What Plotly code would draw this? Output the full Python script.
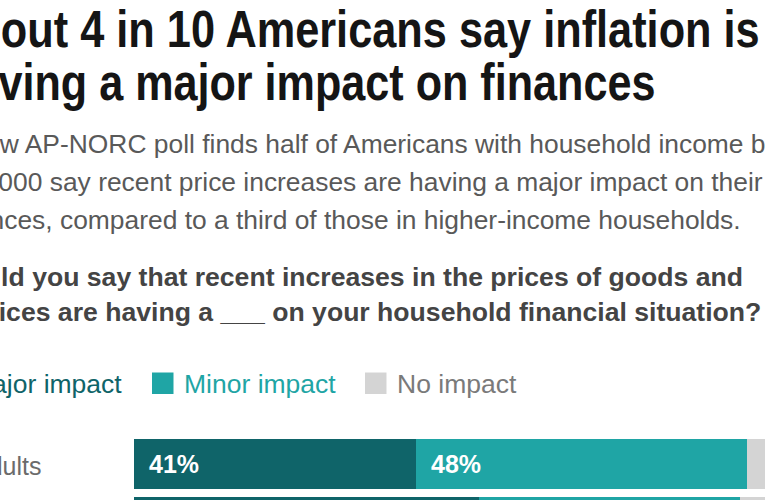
import json
import plotly.graph_objects as go

# ---- data ----
title_lines = ["About 4 in 10 Americans say inflation is",
               "having a major impact on finances"]
subtitle_lines = ["A new AP-NORC poll finds half of Americans with household income below",
                  "$50,000 say recent price increases are having a major impact on their",
                  "finances, compared to a third of those in higher-income households."]
question_lines = ["Would you say that recent increases in the prices of goods and",
                  "services are having a ___ on your household financial situation?"]
groups = ["All adults", "Less than $50,000"]
series_names = ["Major impact", "Minor impact", "No impact"]
major = [41, 50]
minor = [48, 38]
no_impact = [11, 12]

bar_colors = ["#0f6469", "#1fa5a5", "#d4d4d4"]
legend_text_colors = ["#0f6469", "#1fa5a5", "#7a7a7a"]

W, H = 765, 500
def px(x):
    return x / W
def py(y):
    return 1 - y / H

fig = go.Figure()
ypos = list(range(len(groups)))
values = [major, minor, no_impact]
for name, vals, col in zip(series_names, values, bar_colors):
    fig.add_trace(go.Bar(y=ypos, x=vals, name=name, orientation="h",
                         marker=dict(color=col, line=dict(width=0)),
                         width=50 / 58, showlegend=False, hoverinfo="skip"))

annotations = []
# title (bold, horizontally condensed in post script)
title_left = [-58, -53]
for i, line in enumerate(title_lines):
    annotations.append(dict(text=line, xref="paper", yref="paper", x=px(title_left[i]), y=py(29 + 53 * i),
                            xanchor="left", yanchor="middle", showarrow=False, borderpad=0,
                            font=dict(family="Liberation Sans", size=52, color="#151515", weight="bold")))
for i, line in enumerate(subtitle_lines):
    annotations.append(dict(text=line, xref="paper", yref="paper", x=px(-54), y=py(144 + 38 * i),
                            xanchor="left", yanchor="middle", showarrow=False, borderpad=0,
                            font=dict(family="Liberation Sans", size=26.4, color="#595959")))
for i, line in enumerate(question_lines):
    annotations.append(dict(text=line, xref="paper", yref="paper", x=px(-57), y=py(277 + 35 * i),
                            xanchor="left", yanchor="middle", showarrow=False, borderpad=0,
                            font=dict(family="Liberation Sans", size=26.6, color="#444444", weight="bold")))

# legend (squares + labels)
shapes = []
legend_x = [-62, 152, 365]
for name, col, tcol, lx in zip(series_names, bar_colors, legend_text_colors, legend_x):
    shapes.append(dict(type="rect", xref="paper", yref="paper", x0=px(lx), x1=px(lx + 21.5),
                       y0=py(394), y1=py(372.5), fillcolor=col, line=dict(width=0)))
    annotations.append(dict(text=name, xref="paper", yref="paper", x=px(lx + 31), y=py(384),
                            xanchor="left", yanchor="middle", showarrow=False, borderpad=0,
                            font=dict(family="Liberation Sans", size=26.5, color=tcol)))

# row labels
for g, yv in zip(groups, ypos):
    annotations.append(dict(text=g, xref="paper", yref="y", x=px(42.3), y=yv, yshift=-1.5,
                            xanchor="right", yanchor="middle", showarrow=False, borderpad=0,
                            font=dict(family="Liberation Sans", size=25, color="#6b6b6b")))

# value labels inside major / minor segments
for gi, yv in enumerate(ypos):
    start = 0
    for si, vals in enumerate(values[:2]):
        annotations.append(dict(text=f"{vals[gi]}%", xref="x", yref="y", x=start, y=yv,
                                xshift=14, xanchor="left", yanchor="middle", showarrow=False,
                                borderpad=0,
                                font=dict(family="Liberation Sans", size=25, color="white", weight="bold")))
        start += vals[gi]

fig.update_layout(
    width=W, height=H, margin=dict(l=0, r=0, t=0, b=0),
    paper_bgcolor="white", plot_bgcolor="white",
    barmode="stack", bargap=0,
    xaxis=dict(domain=[134 / W, 1], range=[0, 631 / 6.89], visible=False, fixedrange=True),
    yaxis=dict(domain=[0, 61 / H], range=[36 / 58, -25 / 58], visible=False, fixedrange=True),
    annotations=annotations, shapes=shapes,
)

post = """
var gd = document.getElementById('{plot_id}');
var titles = %s;
var scales = [0.833, 0.83];
function squeeze(){
  var ts = gd.querySelectorAll('text.annotation-text');
  ts.forEach(function(t){
    var k = titles.indexOf(t.textContent);
    if(k < 0) return;
    t.removeAttribute('transform');
    var bx = t.getBBox().x;
    t.setAttribute('transform', 'translate(' + bx + ',0) scale(' + scales[k] + ',1) translate(' + (-bx) + ',0)');
  });
}
squeeze();
if (gd.on) { gd.on('plotly_afterplot', squeeze); }
""" % json.dumps(title_lines)

fig.write_html("out.html", post_script=post)
